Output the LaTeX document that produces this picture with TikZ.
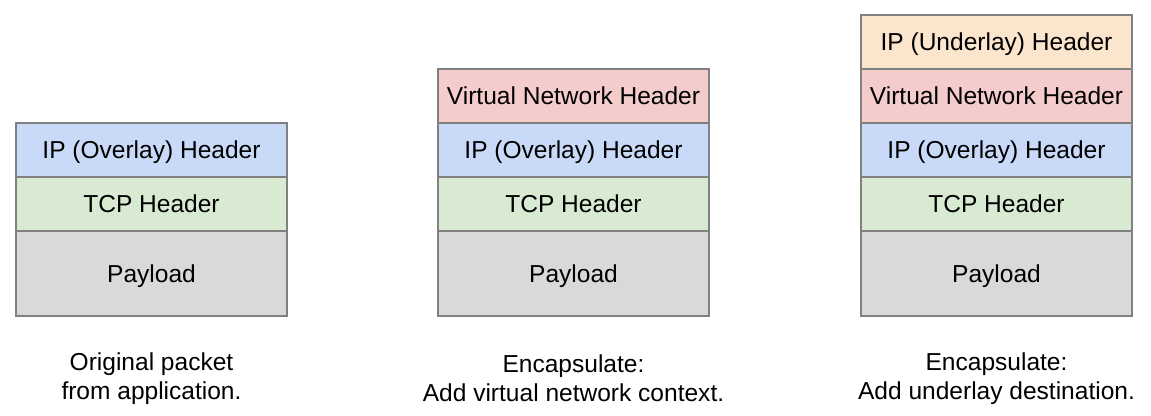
\documentclass[tikz,border=0pt]{standalone}
\usepackage{fontspec}
\setmainfont{Liberation Sans}
\usetikzlibrary{positioning}
\definecolor{underlayhdr}{HTML}{FCE5CD}
\definecolor{vnethdr}{HTML}{F4CCCC}
\definecolor{overlayhdr}{HTML}{C9DAF8}
\definecolor{tcphdr}{HTML}{D9EAD3}
\definecolor{payloadbg}{HTML}{D9D9D9}

\begin{document}
\begin{tikzpicture}[x=0.75pt,y=-0.75pt]
\tikzset{cell/.style={draw=black!50, line width=0.8pt, minimum width=203.25pt, minimum height=40.5pt, inner sep=0pt, outer sep=0pt, text height=13.2pt, text depth=0pt, font=\fontsize{18.4}{22}\selectfont}}
\tikzset{payload/.style={cell, fill=payloadbg, minimum height=63.75pt}}
\tikzset{caption/.style={align=center, font=\fontsize{18.4}{21.75}\selectfont}}

\useasboundingbox (0,0) rectangle (1151,415);

% original packet
\node[payload] (pay1) at (151.5,273.5) {Payload};
\node[cell, fill=tcphdr, above=0pt of pay1] (tcp1) {TCP Header};
\node[cell, fill=overlayhdr, above=0pt of tcp1] (ipo1) {IP (Overlay) Header};
\node[caption] (cap1) at (151.5,378.5) {Original packet\\from application.};

% virtual network encapsulation
\node[payload] (pay2) at (573.5,273.5) {Payload};
\node[cell, fill=tcphdr, above=0pt of pay2] (tcp2) {TCP Header};
\node[cell, fill=overlayhdr, above=0pt of tcp2] (ipo2) {IP (Overlay) Header};
\node[cell, fill=vnethdr, above=0pt of ipo2] (vnet2) {Virtual Network Header};
\node[caption] (cap2) at (573.5,378.5) {Encapsulate:\\Add virtual network context.};

% underlay encapsulation
\node[payload] (pay3) at (996.5,273.5) {Payload};
\node[cell, fill=tcphdr, above=0pt of pay3] (tcp3) {TCP Header};
\node[cell, fill=overlayhdr, above=0pt of tcp3] (ipo3) {IP (Overlay) Header};
\node[cell, fill=vnethdr, above=0pt of ipo3] (vnet3) {Virtual Network Header};
\node[cell, fill=underlayhdr, above=0pt of vnet3] (ipu3) {IP (Underlay) Header};
\node[caption] (cap3) at (996.5,378.5) {Encapsulate:\\Add underlay destination.};

\end{tikzpicture}
\end{document}
